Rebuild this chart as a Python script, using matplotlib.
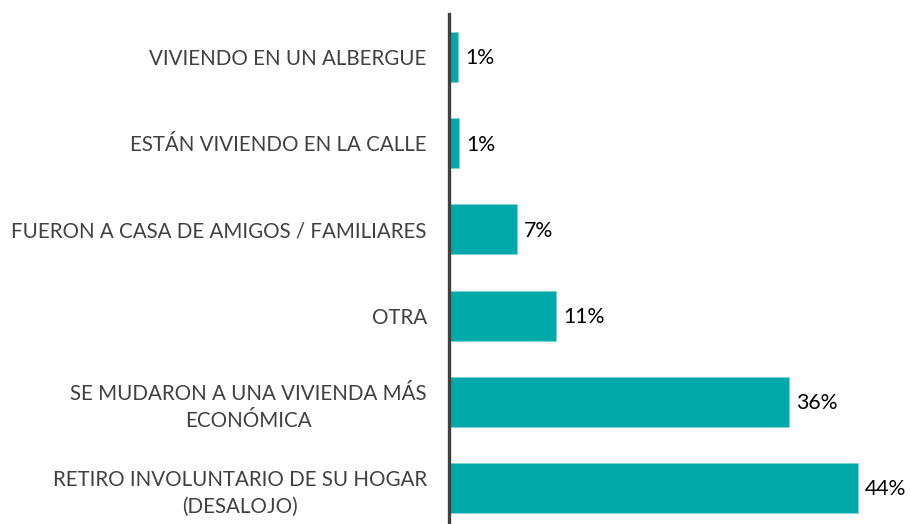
import matplotlib.pyplot as plt

# Categorías (de abajo hacia arriba)
categorias = [
    'RETIRO INVOLUNTARIO DE SU HOGAR\n(DESALOJO)',
    'SE MUDARON A UNA VIVIENDA MÁS\nECONÓMICA',
    'OTRA',
    'FUERON A CASA DE AMIGOS / FAMILIARES',
    'ESTÁN VIVIENDO EN LA CALLE',
    'VIVIENDO EN UN ALBERGUE',
]
valores = [44.0, 36.6, 11.5, 7.3, 1.1, 1.0]
etiquetas = ['44%', '36%', '11%', '7%', '1%', '1%']

plt.rcParams['font.family'] = ['Lato', 'DejaVu Sans']

fig = plt.figure(figsize=(9.11, 5.24), dpi=100)
ax = fig.add_axes([449 / 911, 0.0, 1 - 449 / 911, 1 - 14 / 524])

y = list(range(len(categorias)))
barras = ax.barh(y, valores, height=0.58, color='#00A9AA', edgecolor='#7FD4D4', linewidth=0.6)

for yi, v, t in zip(y, valores, etiquetas):
    ax.annotate(t, (v, yi), xytext=(5, -1), textcoords='offset points',
                va='center', ha='left', fontsize=15.3, color='black')

ax.set_xlim(0, 44 * (911 - 449) / 409)
ax.set_ylim(-0.42, 5.5)
ax.set_yticks(y)
ax.set_yticklabels(categorias, fontsize=14.8, color='#404040',
                   multialignment='center', linespacing=1.45)
ax.tick_params(axis='y', length=0, pad=16)
ax.set_xticks([])

for s in ['top', 'right', 'bottom']:
    ax.spines[s].set_visible(False)
ax.spines['left'].set_color('#404040')
ax.spines['left'].set_linewidth(2.4)

fig.savefig('out.png', dpi=100)
